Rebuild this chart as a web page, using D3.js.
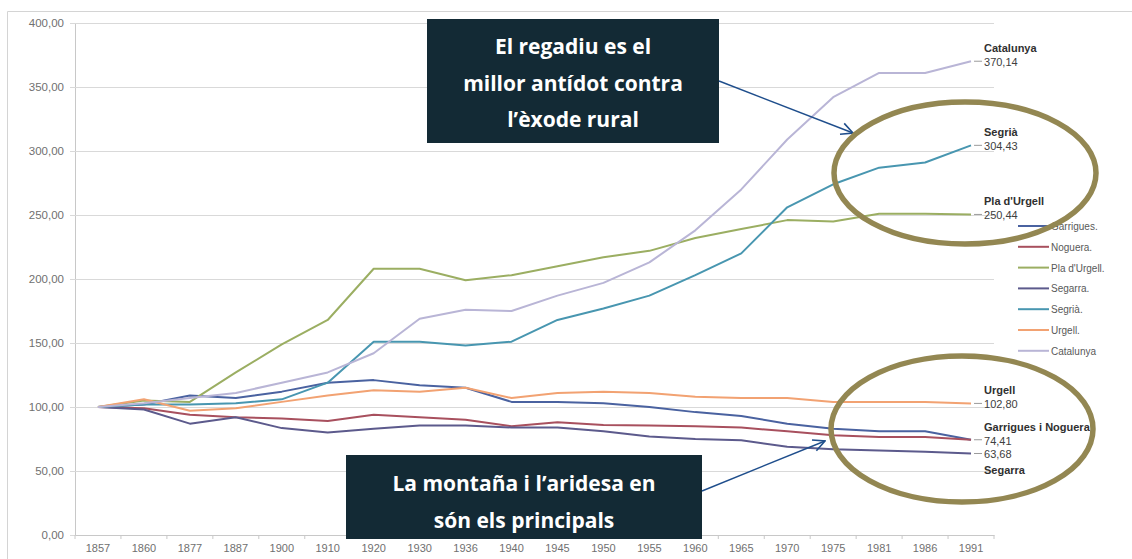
<!DOCTYPE html>
<html><head><meta charset="utf-8">
<script src="https://cdn.jsdelivr.net/npm/d3@7"></script>
<style>
body{margin:0;background:#fff;}
svg{display:block;}
</style></head><body>
<svg id="chart" width="1132" height="559"></svg>
<script>
// ---- data ----
const years = ["1857","1860","1877","1887","1900","1910","1920","1930","1936","1940","1945","1950","1955","1960","1965","1970","1975","1981","1986","1991"];
const yTicks = [0,50,100,150,200,250,300,350,400];
const seriesNames = ["Garrigues.","Noguera.","Pla d'Urgell.","Segarra.","Segrià.","Urgell.","Catalunya"];
const garrigues  = [100,102,109,107,112,119,121,117,115,104,104,103,100,96,93,87,83,81,81,74.41];
const noguera    = [100,99,94,92,91,89,94,92,90,85,88,86,85.5,85,84,81,78,76.5,76.5,74.41];
const plaUrgell  = [100,105,104,127,149,168,208,208,199,203,210,217,222,232,239,246,245,251,251,250.44];
const segarra    = [100,98,87,92,83.5,80,83,85.5,85.5,84,84,81,77,75,74,69,67,66,65,63.68];
const segria     = [100,102,102,103,106,119,151,151,148,151,168,177,187,203,220,256,274,287,291,304.43];
const urgell     = [100,106,97,99,104,109,113,112,115,107,111,112,111,108,107,107,104,104,104,102.80];
const catalunya  = [100,103,107,111,119,127,142,169,176,175,187,197,213,238,270,309,342,361,361,370.14];
const seriesValues = [garrigues,noguera,plaUrgell,segarra,segria,urgell,catalunya];
const seriesColors = ["#4a62a0","#a8505e","#9bae62","#5c5a8c","#4896b0","#f2a272","#b9b5d6"];
const box1Lines = ["El regadiu es el","millor antídot contra","l\u2019èxode rural"];
const box2Lines = ["La montaña i l\u2019aridesa en","són els principals"];
const endNames = [["Catalunya",6],["Segrià",4],["Pla d'Urgell",2],["Urgell",5],["Garrigues i Noguera",0]];
const endValues = [6,4,2,5,0,3];
const endNamesBelow = [["Segarra",3]];

// ---- chart ----
(function(){
const svg = d3.select("#chart");
const pL = 75, pR = 994, pT = 23, pB = 535;
const x = d3.scaleBand().domain(years).range([pL, pR]);
const cx = d => x(d) + x.bandwidth()/2;
const y = d3.scaleLinear().domain([0,400]).range([pB, pT]);
const loc = d3.formatLocale({decimal:",", thousands:".", grouping:[3], currency:["","€"]});
const f2 = loc.format(".2f");

// frame (top & left)
svg.append("path").attr("d","M7.5,559 V11.5 H1132").attr("fill","none").attr("stroke","#d4d4d4");

// gridlines + y axis
const yAxis = d3.axisLeft(y).tickValues(yTicks).tickFormat(f2).tickSize(-(pR-pL)).tickSizeOuter(0).tickPadding(11);
const gy = svg.append("g").attr("transform",`translate(${pL},0)`).call(yAxis);
gy.select(".domain").attr("stroke","#c8c8c8");
gy.selectAll(".tick line").attr("stroke","#d9d9d9").attr("x1",-5);
gy.selectAll(".tick text").attr("fill","#707070").style("font-family","'Liberation Sans',Arial,sans-serif").style("font-size","11.5px");

// x axis
const xAxis = d3.axisBottom(x).tickSize(0).tickPadding(9).tickSizeOuter(0);
const gx = svg.append("g").attr("transform",`translate(0,${pB})`).call(xAxis);
gx.select(".domain").attr("stroke","#c8c8c8");
gx.selectAll(".tick text").attr("fill","#707070").style("font-family","'Liberation Sans',Arial,sans-serif").style("font-size","11px");
gx.selectAll("line.bnd").data(years.concat(["end"])).enter().append("line").attr("class","bnd")
  .attr("x1",d=> d==="end"? pR : x(d)).attr("x2",d=> d==="end"? pR : x(d))
  .attr("y1",0).attr("y2",4).attr("stroke","#c8c8c8");

// lines
const line = d3.line().x((d,i)=>cx(years[i])).y(d=>y(d));
svg.append("g").selectAll("path").data(seriesValues).enter().append("path")
  .attr("d",d=>line(d)).attr("fill","none")
  .attr("stroke",(d,i)=>seriesColors[i]).attr("stroke-width",2).attr("stroke-linejoin","round");

// end labels
const lx = cx(years[years.length-1]) + 13;
const lblFont = "'Liberation Sans',Arial,sans-serif";
const gl = svg.append("g").style("font-family",lblFont).style("font-size","11px");
endValues.forEach(si=>{
  const v = seriesValues[si][seriesValues[si].length-1];
  gl.append("line").attr("x1",lx-10).attr("x2",lx-2).attr("y1",y(v)).attr("y2",y(v)).attr("stroke","#9a9a9a");
  gl.append("text").attr("x",lx).attr("y",y(v)+5).attr("fill","#404040").text(f2(v));
});
endNames.forEach(([t,si])=>{
  const v = seriesValues[si][seriesValues[si].length-1];
  gl.append("text").attr("x",lx).attr("y",y(v)-9).attr("fill","#303030").attr("font-weight","bold").text(t);
});
endNamesBelow.forEach(([t,si])=>{
  const v = seriesValues[si][seriesValues[si].length-1];
  gl.append("text").attr("x",lx).attr("y",y(v)+21).attr("fill","#303030").attr("font-weight","bold").text(t);
});

// legend
const leg = svg.append("g").attr("transform","translate(1018,226)");
seriesNames.forEach((n,i)=>{
  const r = leg.append("g").attr("transform",`translate(0,${i*20.8})`);
  r.append("line").attr("x1",0).attr("x2",31).attr("stroke",seriesColors[i]).attr("stroke-width",2);
  r.append("text").attr("x",33).attr("y",4).attr("fill","#595959").style("font-family",lblFont).style("font-size","10px").text(n);
});

// annotation boxes
const defs = svg.append("defs");
defs.append("marker").attr("id","arr").attr("viewBox","0 0 12 12").attr("refX",11).attr("refY",6)
  .attr("markerWidth",14).attr("markerHeight",14).attr("markerUnits","userSpaceOnUse").attr("orient","auto")
  .append("path").attr("d","M1,1 L11,6 L1,11").attr("fill","none").attr("stroke","#1f4e8c").attr("stroke-width",1.4);
defs.append("clipPath").attr("id","clip2").append("rect").attr("x",346).attr("y",455).attr("width",356).attr("height",78);

const boxFont = "'Open Sans',sans-serif";
svg.append("rect").attr("x",427).attr("y",19).attr("width",292).attr("height",124).attr("fill","#132a35");
svg.append("g").selectAll("text").data(box1Lines).enter().append("text")
  .attr("x",573).attr("y",(d,i)=>54+i*36.5).attr("text-anchor","middle").attr("fill","#fff")
  .style("font-family",boxFont).style("font-weight","700").style("font-size","21px").text(d=>d);

svg.append("rect").attr("x",346).attr("y",455).attr("width",356).attr("height",84).attr("fill","#132a35");
svg.append("g").attr("clip-path","url(#clip2)").selectAll("text").data(box2Lines).enter().append("text")
  .attr("x",524).attr("y",(d,i)=>491+i*37).attr("text-anchor","middle").attr("fill","#fff")
  .style("font-family",boxFont).style("font-weight","700").style("font-size","21px").text(d=>d);

// arrows
svg.append("line").attr("x1",719).attr("y1",81).attr("x2",853).attr("y2",133)
  .attr("stroke","#1f4e8c").attr("stroke-width",1.4).attr("marker-end","url(#arr)");
svg.append("line").attr("x1",702).attr("y1",491).attr("x2",825).attr("y2",441)
  .attr("stroke","#1f4e8c").attr("stroke-width",1.4).attr("marker-end","url(#arr)");

// ellipses
svg.append("ellipse").attr("cx",965).attr("cy",173).attr("rx",131).attr("ry",71)
  .attr("fill","none").attr("stroke","#938752").attr("stroke-width",5.5);
svg.append("ellipse").attr("cx",962).attr("cy",429).attr("rx",131).attr("ry",73)
  .attr("fill","none").attr("stroke","#938752").attr("stroke-width",5.5);
})();
</script>
</body></html>
